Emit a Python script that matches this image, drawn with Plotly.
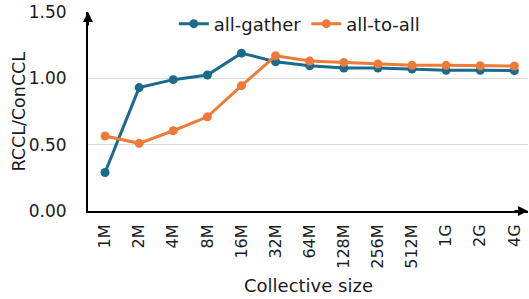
import plotly.graph_objects as go

sizes = ["1M", "2M", "4M", "8M", "16M", "32M", "64M", "128M", "256M", "512M", "1G", "2G", "4G"]
all_gather = [0.29, 0.93, 0.99, 1.025, 1.19, 1.125, 1.095, 1.078, 1.078, 1.07, 1.06, 1.06, 1.058]
all_to_all = [0.565, 0.51, 0.605, 0.71, 0.945, 1.17, 1.13, 1.12, 1.108, 1.098, 1.098, 1.095, 1.093]

FONT = "DejaVu Sans"
blue = "#196b8c"
orange = "#ee7a37"

fig = go.Figure()
fig.add_trace(go.Scatter(x=sizes, y=all_gather, name="all-gather", mode="lines+markers",
                         line=dict(color=blue, width=3), marker=dict(size=9, color=blue)))
fig.add_trace(go.Scatter(x=sizes, y=all_to_all, name="all-to-all", mode="lines+markers",
                         line=dict(color=orange, width=3), marker=dict(size=9, color=orange)))

fig.update_layout(
    width=529, height=299,
    margin=dict(l=88, r=1, t=12, b=88, autoexpand=False),
    plot_bgcolor="white", paper_bgcolor="white",
    font=dict(family=FONT, size=16, color="#1a1a1a"),
    showlegend=True,
    legend=dict(orientation="h", x=0.195, y=0.94, xanchor="left", yanchor="middle",
                font=dict(size=18), bgcolor="rgba(255,255,255,0)", itemwidth=30,
                tracegroupgap=0),
    xaxis=dict(type="category", range=[-0.5, 12.4], tickangle=-90, automargin=False,
               showline=True, linecolor="black", linewidth=2, showgrid=False,
               ticks="", tickfont=dict(size=16), ticklabelstandoff=5),
    yaxis=dict(range=[0, 1.5], tickvals=[0, 0.5, 1.0, 1.5], ticktext=["0.00", "0.50", "1.00", "1.50"],
               automargin=False,
               showline=True, linecolor="black", linewidth=2, showgrid=True,
               gridcolor="#d9d9d9", gridwidth=1, zeroline=False, ticks="",
               tickfont=dict(size=17), ticklabelstandoff=16),
)

# axis titles
fig.add_annotation(text="Collective size", x=0.5, y=-(285 - 211) / (211 - 12), xref="paper", yref="paper",
                   yanchor="middle", showarrow=False, font=dict(size=18))
fig.add_annotation(text="RCCL/ConCCL", x=-(88 - 18) / (528 - 88), y=0.5, xref="paper", yref="paper",
                   xanchor="center", yanchor="middle", textangle=-90, showarrow=False,
                   font=dict(size=17.5))

# axis arrowheads
fig.add_annotation(x=1.0, y=0, xref="paper", yref="paper", ax=-15, ay=0, text="",
                   showarrow=True, arrowhead=2, arrowsize=1, arrowwidth=2, arrowcolor="black")
fig.add_annotation(x=0, y=1.0, xref="paper", yref="paper", ax=0, ay=15, text="",
                   showarrow=True, arrowhead=2, arrowsize=1, arrowwidth=2, arrowcolor="black")

fig.write_html("out.html", config={"displayModeBar": False},
               post_script="document.body.style.margin='0';")
